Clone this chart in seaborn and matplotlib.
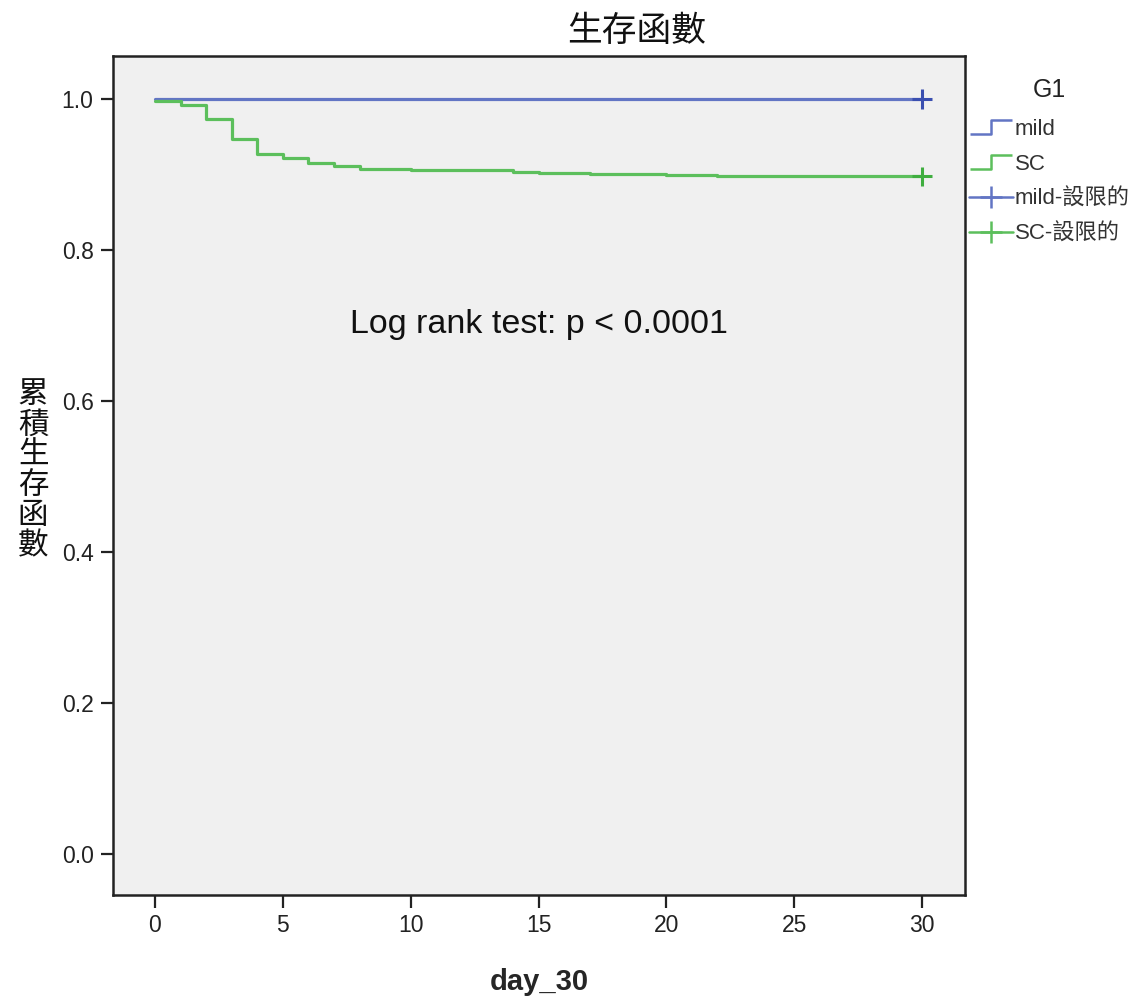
import numpy as np
import pandas as pd
import matplotlib
matplotlib.use("Agg")
import matplotlib.pyplot as plt
from matplotlib.lines import Line2D
from matplotlib.path import Path
import seaborn as sns

# ---- data ----
groups = ["mild", "SC"]
mild_days = [0, 9, 14, 24, 29, 30]
mild_surv = [1.0, 1.0, 1.0, 1.0, 1.0, 1.0]
sc_days = [0, 1, 2, 3, 4, 5, 6, 7, 8, 9, 10, 14, 15, 17, 18, 20, 22, 29, 30]
sc_surv = [0.997, 0.9925, 0.974, 0.947, 0.9275, 0.922, 0.9155, 0.912, 0.908,
           0.907, 0.906, 0.904, 0.902, 0.901, 0.9005, 0.8995, 0.8985, 0.8975, 0.8975]
censor_days = [30, 30]
censor_surv = [1.0, 0.8975]
x_ticks = [0, 5, 10, 15, 20, 25, 30]
y_ticks = [0.0, 0.2, 0.4, 0.6, 0.8, 1.0]
legend_labels = ["mild", "SC", "mild-設限的", "SC-設限的"]

mild_color = "#6275C4"
sc_color = "#5CBF5C"
palette = {"mild": mild_color, "SC": sc_color}

df = pd.DataFrame({
    "day_30": mild_days + sc_days,
    "surv": mild_surv + sc_surv,
    "G1": ["mild"] * len(mild_days) + ["SC"] * len(sc_days),
})
cdf = pd.DataFrame({"day_30": censor_days, "surv": censor_surv, "G1": groups})

sns.set_theme(style="white")
fams = ["Liberation Sans", "Noto Sans CJK TC", "DejaVu Sans"]
plt.rcParams["font.family"] = fams

fig = plt.figure(figsize=(11.42, 10.01), dpi=100)
ax = fig.add_axes([0.099, 0.106, 0.746, 0.838])
ax.set_facecolor("#F0F0F0")

sns.lineplot(data=df, x="day_30", y="surv", hue="G1", palette=palette,
             drawstyle="steps-post", estimator=None, linewidth=2.3,
             legend=False, ax=ax)
sns.scatterplot(data=cdf, x="day_30", y="surv", hue="G1",
                palette={"mild": "#3A4FB0", "SC": "#3FAE3F"},
                marker="+", s=200, linewidth=2.2, legend=False, ax=ax, zorder=5)

ax.set_xlim(-1.64, 31.68)
ax.set_ylim(-0.054, 1.057)
ax.set_xticks(x_ticks)
ax.set_xticklabels([str(t) for t in x_ticks], fontsize=16.5, color="#222222")
ax.set_yticks(y_ticks)
ax.set_yticklabels([f"{t:.1f}" for t in y_ticks], fontsize=16.5, color="#222222")
ax.tick_params(axis="both", direction="out", length=9, width=1.6, color="#222222",
               bottom=True, left=True, pad=5)
for s in ax.spines.values():
    s.set_visible(True)
    s.set_color("#222222")
    s.set_linewidth(1.8)

ax.set_xlabel("day_30", fontsize=21, fontweight="bold", labelpad=22)
ax.set_ylabel("")
fig.text(637 / 1142, 1 - 32 / 1001, "生存函數", fontsize=25, ha="center", va="center",
         color="#111111", family=["Noto Sans CJK TC", "DejaVu Sans"])

fig.text(0.029, 0.53, "\n".join("累積生存函數"), fontsize=22,
         ha="center", va="center", linespacing=0.97, color="#111111",
         family=["Noto Sans CJK TC", "DejaVu Sans"])

ax.text(0.5, 0.68, "Log rank test: p < 0.0001", transform=ax.transAxes,
        ha="center", va="center", fontsize=24.5, color="#111111")

# legend
step = Path([(-1, -0.35), (0, -0.35), (0, 0.35), (1, 0.35)],
            [Path.MOVETO, Path.LINETO, Path.LINETO, Path.LINETO])
handles = [
    Line2D([], [], marker=step, markersize=30, markerfacecolor="none",
           markeredgecolor=mild_color, markeredgewidth=1.8, linestyle="none"),
    Line2D([], [], marker=step, markersize=30, markerfacecolor="none",
           markeredgecolor=sc_color, markeredgewidth=1.8, linestyle="none"),
    Line2D([], [], color=mild_color, marker="+", markersize=16, markeredgewidth=1.8,
           linewidth=1.8),
    Line2D([], [], color=sc_color, marker="+", markersize=16, markeredgewidth=1.8,
           linewidth=1.8),
]
leg = fig.legend(handles, legend_labels, title="G1", loc="upper left",
                 bbox_to_anchor=(0.831, 0.942), frameon=False, fontsize=16,
                 title_fontsize=18, handlelength=2.0, handletextpad=0.05,
                 labelspacing=0.62)
for t in leg.get_texts():
    t.set_color("#333333")
leg.get_title().set_color("#222222")
leg._legend_box.sep = 12
leg._legend_box.align = "center"

fig.savefig("out.png", dpi=100, facecolor="white")
